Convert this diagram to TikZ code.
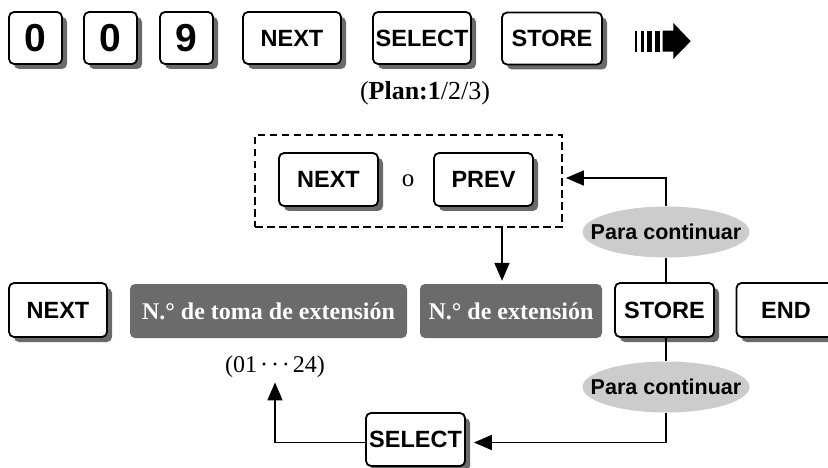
\documentclass[tikz,border=0pt]{standalone}
\usepackage{fontspec}
\setmainfont{Liberation Serif}
\newfontfamily\keyfont{Liberation Sans}
\usetikzlibrary{shapes.geometric,shadows,arrows.meta}
\definecolor{shadowgray}{HTML}{6A6A6A}
\definecolor{boxgray}{HTML}{6B6B6B}
\definecolor{ellgray}{HTML}{CCCCCC}
\begin{document}
\begin{tikzpicture}[x=1pt,y=-1pt,
  keybox/.style={draw, line width=1.8pt, rounded corners=5pt, fill=white, inner sep=0pt,
    minimum height=52pt, minimum width=98pt,
    font=\keyfont\bfseries\fontsize{23.5}{25}\selectfont,
    drop shadow={shadow xshift=5pt,shadow yshift=-5pt,fill=shadowgray,opacity=1}},
  digitbox/.style={keybox, minimum width=53pt, font=\keyfont\bfseries\fontsize{39}{40}\selectfont},
  graybox/.style={fill=boxgray, rounded corners=5pt, inner sep=0pt, minimum height=54pt,
    text=white, font=\bfseries\fontsize{24}{26}\selectfont},
  contell/.style={ellipse, fill=ellgray, inner sep=0pt, minimum width=167pt, minimum height=51pt},
  elltext/.style={inner sep=0pt, font=\keyfont\bfseries\fontsize{21.5}{23}\selectfont},
  arr/.style={line width=1.8pt, -{Triangle[length=18pt,width=15pt]}},
  plain/.style={line width=1.8pt},
  dbox/.style={draw, line width=1.8pt, dash pattern=on 7.5pt off 4.5pt, minimum width=307pt, minimum height=92pt, inner sep=0pt}
]
\useasboundingbox (0,0) rectangle (828,468);

% top row
\node[digitbox] (d1) at (35.5,38) {0};
\node[digitbox] (d2) at (110.5,38) {0};
\node[digitbox] (d3) at (186.5,38) {9};
\node[keybox] (tnext) at (292,38) {NEXT};
\node[keybox] (tsel) at (422,38) {SELECT};
\node[keybox, minimum width=100pt] (tstore) at (552,38.5) {STORE};
% big arrow
\fill (635,30.7) rectangle (637.3,51.7);
\fill (640.7,30.7) rectangle (644,51.7);
\fill (647.3,30.7) rectangle (651.7,51.7);
\fill (655,30.7) rectangle (660,51.7);
\fill (662.7,30.7) -- (673.3,30.7) -- (673.3,23) -- (690.7,41.2) -- (673.3,59) -- (673.3,51.7) -- (662.7,51.7) -- cycle;

\node (plan) at (425,93) {\fontsize{26}{28}\selectfont (\textbf{Plan:1}/2/3)};

% dashed group
\node[dbox] (grp) at (408.5,181) {};
\node[keybox, minimum width=99pt, minimum height=53pt] (mnext) at (328.5,179.5) {NEXT};
\node (or) at (408,181) {\fontsize{25}{27}\selectfont o};
\node[keybox, minimum width=99pt, minimum height=53pt] (prev) at (483.5,179.5) {PREV};

\node[contell] (ell1) at (666,232) {};
\node[elltext] (ell1t) at (ell1) {Para continuar};

% bottom row
\node[keybox, minimum height=54pt] (bnext) at (58,310) {NEXT};
\node[graybox, minimum width=277pt] (g1) at (268.5,311) {N.° de toma de extensión};
\node[graybox, minimum width=182pt] (g2) at (511,311) {N.° de extensión};
\node[keybox, minimum width=99pt, minimum height=54pt] (bstore) at (664.5,310) {STORE};
\node[keybox, minimum width=99pt, minimum height=54pt] (bend) at (786,310) {END};

\node (range) at (275,367) {\fontsize{24}{26}\selectfont (01\kern3pt\textperiodcentered\kern3pt\textperiodcentered\kern3pt\textperiodcentered\kern3pt24)};
\node[contell] (ell2) at (666,387) {};
\node[elltext] (ell2t) at (ell2) {Para continuar};
\node[keybox, minimum width=99pt, minimum height=53pt] (bsel) at (415.5,439.5) {SELECT};

% connectors
\draw[arr, shorten >=3pt] ([xshift=93.5pt]grp.south) -- ([xshift=93.5pt]grp.south |- g2.north);
\draw[plain] (ell1.south) -- (ell1.south |- bstore.north);
\draw[arr, shorten >=3pt] (ell1.north) |- ([yshift=3pt]grp.east);
\draw[plain] (ell2.north) -- (ell2.north |- bstore.south);
\draw[arr, shorten >=8pt] (ell2.south) |- ([yshift=-3pt]bsel.east);
\draw[arr, shorten >=1pt] ([yshift=-3pt]bsel.west) -| (range.south);
\end{tikzpicture}
\end{document}
